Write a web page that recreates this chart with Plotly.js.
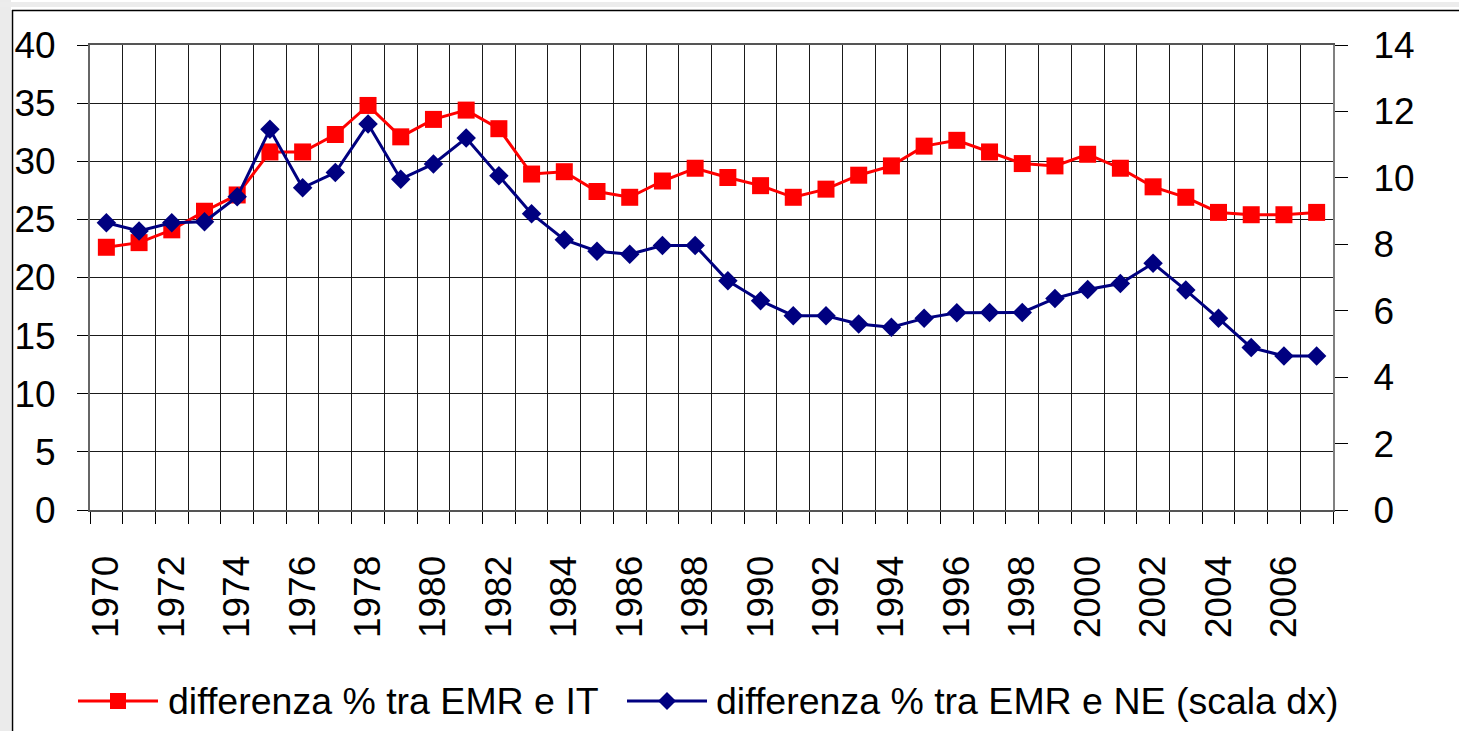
<!DOCTYPE html>
<html>
<head>
<meta charset="utf-8">
<script src="https://cdn.plot.ly/plotly-3.0.1.min.js"></script>
<style>html,body{margin:0;padding:0;background:#fff;}#chart{width:1459px;height:731px;}</style>
</head>
<body>
<div id="chart"></div>
<script>
// ---- data ----
const years = [1970,1971,1972,1973,1974,1975,1976,1977,1978,1979,1980,1981,1982,1983,1984,1985,1986,1987,1988,1989,1990,1991,1992,1993,1994,1995,1996,1997,1998,1999,2000,2001,2002,2003,2004,2005,2006,2007];
const diffEmrIt = [22.6,23.0,24.1,25.7,27.1,30.8,30.8,32.3,34.8,32.1,33.6,34.4,32.8,28.9,29.1,27.4,26.9,28.3,29.4,28.6,27.9,26.9,27.6,28.8,29.6,31.3,31.8,30.8,29.8,29.6,30.6,29.4,27.8,26.9,25.6,25.4,25.4,25.6];
const diffEmrNe = [8.65,8.40,8.65,8.68,9.43,11.46,9.70,10.16,11.62,9.96,10.42,11.2,10.06,8.92,8.14,7.79,7.70,7.96,7.96,6.90,6.30,5.85,5.85,5.60,5.50,5.77,5.94,5.95,5.95,6.37,6.64,6.82,7.43,6.62,5.77,4.89,4.64,4.64];
const tickYears = [1970,1972,1974,1976,1978,1980,1982,1984,1986,1988,1990,1992,1994,1996,1998,2000,2002,2004,2006];
const tickLabels = ["1970","1972","1974","1976","1978","1980","1982","1984","1986","1988","1990","1992","1994","1996","1998","2000","2002","2004","2006"];
const leftTicks = [0,5,10,15,20,25,30,35,40];
const rightTicks = [0,2,4,6,8,10,12,14];
const nameIt = "differenza % tra EMR e IT";
const nameNe = "differenza % tra EMR e NE (scala dx)";

// ---- layout geometry (pixels) ----
const W = 1459, H = 731, L = 90, R = 1333, T = 45, B = 510;
function px(x){ return (x - L) / (R - L); }
function py(y){ return (B - y) / (B - T); }
const FONT = "Liberation Sans, Arial, sans-serif";
const RED = "#FF0000", NAVY = "#000080";

const traces = [
  {x: years, y: diffEmrIt, name: nameIt, type: "scatter", mode: "lines+markers",
   line: {color: RED, width: 3}, marker: {symbol: "square", size: 17, color: RED}, yaxis: "y"},
  {x: years, y: diffEmrNe, name: nameNe, type: "scatter", mode: "lines+markers",
   line: {color: NAVY, width: 3}, marker: {symbol: "diamond", size: 15, color: NAVY}, yaxis: "y2"}
];

const legY = 701;
const shapes = [
  // slide background bits / chart frame
  {type: "rect", xref: "paper", yref: "paper", x0: px(0), x1: px(11), y0: py(0), y1: py(731), fillcolor: "#ebebeb", line: {width: 0}, layer: "below"},
  {type: "rect", xref: "paper", yref: "paper", x0: px(0), x1: px(1459), y0: py(2), y1: py(7), fillcolor: "#ececec", line: {width: 0}, layer: "below"},
  {type: "line", xref: "paper", yref: "paper", x0: px(12), x1: px(1459), y0: py(10.5), y1: py(10.5), line: {color: "#000", width: 1.5}},
  {type: "line", xref: "paper", yref: "paper", x0: px(12.5), x1: px(12.5), y0: py(10), y1: py(731), line: {color: "#000", width: 1.5}},
  // legend
  {type: "line", xref: "paper", yref: "paper", x0: px(78), x1: px(158), y0: py(legY), y1: py(legY), line: {color: RED, width: 3}},
  {type: "rect", xref: "paper", yref: "paper", x0: px(110), x1: px(126), y0: py(legY - 8), y1: py(legY + 8), fillcolor: RED, line: {width: 0}},
  {type: "line", xref: "paper", yref: "paper", x0: px(627), x1: px(707), y0: py(legY), y1: py(legY), line: {color: NAVY, width: 3}},
  {type: "path", xref: "paper", yref: "paper",
   path: "M " + px(667) + "," + py(legY - 9) + " L " + px(676) + "," + py(legY) + " L " + px(667) + "," + py(legY + 9) + " L " + px(658) + "," + py(legY) + " Z",
   fillcolor: NAVY, line: {width: 0}}
];

const annotations = [
  {xref: "paper", yref: "paper", x: px(166), y: py(legY), xanchor: "left", yanchor: "middle", showarrow: false,
   text: nameIt, font: {family: FONT, size: 37.5, color: "#000"}},
  {xref: "paper", yref: "paper", x: px(714), y: py(legY), xanchor: "left", yanchor: "middle", showarrow: false,
   text: nameNe, font: {family: FONT, size: 37.5, color: "#000"}}
];

const layout = {
  width: W, height: H, autosize: false,
  margin: {l: L, r: W - R, t: T, b: H - B, pad: 0},
  paper_bgcolor: "#fff", plot_bgcolor: "#fff",
  showlegend: false,
  font: {family: FONT, size: 36, color: "#000"},
  xaxis: {
    type: "linear", range: [1969.5, 2007.5], fixedrange: true,
    tickmode: "array", tickvals: tickYears, ticktext: tickLabels, tickangle: -90,
    ticks: "", ticklabelstandoff: 29, tickfont: {family: FONT, size: 37, color: "#000"},
    showgrid: false, zeroline: false,
    showline: true, linecolor: "#555", linewidth: 2, mirror: true,
    minor: {tickmode: "linear", tick0: 1969.5, dtick: 1, ticks: "outside", ticklen: 12, tickwidth: 1, tickcolor: "#000",
            showgrid: true, gridcolor: "#1a1a1a", gridwidth: 1}
  },
  yaxis: {
    range: [0, 40], fixedrange: true, tickmode: "array", tickvals: leftTicks,
    ticks: "outside", ticklen: 11, tickwidth: 1, tickcolor: "#000", ticklabelstandoff: 14,
    tickfont: {family: FONT, size: 37, color: "#000"},
    showgrid: true, gridcolor: "#1a1a1a", gridwidth: 1, zeroline: false,
    showline: true, linecolor: "#666", linewidth: 2, mirror: true
  },
  yaxis2: {
    range: [0, 14], fixedrange: true, overlaying: "y", side: "right", tickmode: "array", tickvals: rightTicks,
    ticks: "outside", ticklen: 13, tickwidth: 1, tickcolor: "#000", ticklabelstandoff: 18,
    tickfont: {family: FONT, size: 37, color: "#000"},
    showgrid: false, zeroline: false, showline: true, linecolor: "#808080", linewidth: 2
  },
  shapes: shapes,
  annotations: annotations
};

Plotly.newPlot("chart", traces, layout, {displayModeBar: false, staticPlot: true});
</script>
</body>
</html>
